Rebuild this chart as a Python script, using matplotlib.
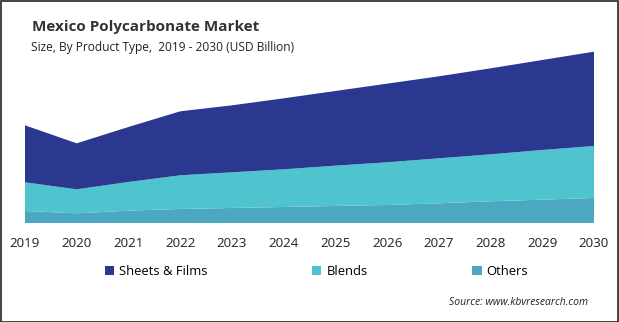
import matplotlib
matplotlib.use("Agg")
import matplotlib.pyplot as plt
from matplotlib.patches import Rectangle

# Mexico polycarbonate market size by product type (USD Billion)
years = [2019, 2020, 2021, 2022, 2023, 2024, 2025, 2026, 2027, 2028, 2029, 2030]
sheets_films = [0.171, 0.138, 0.165, 0.192, 0.201, 0.213, 0.224, 0.236, 0.246, 0.258, 0.270, 0.283]
blends = [0.086, 0.072, 0.086, 0.101, 0.107, 0.113, 0.121, 0.128, 0.135, 0.141, 0.149, 0.156]
others = [0.037, 0.030, 0.038, 0.043, 0.046, 0.049, 0.052, 0.055, 0.060, 0.066, 0.071, 0.076]
labels = ['Sheets & Films', 'Blends', 'Others']
colors = ['#2b388f', '#4fc4cf', '#4aa9c1']

plt.rcParams['font.family'] = ['Open Sans', 'DejaVu Sans']

W, H = 619, 322
fig = plt.figure(figsize=(W / 100, H / 100), dpi=100)
ax = fig.add_axes([25 / W, (H - 223.3) / H, 569 / W, 183.3 / H])

# stacked from the bottom: others, blends, sheets & films
polys = ax.stackplot(years, others, blends, sheets_films,
                     colors=[colors[2], colors[1], colors[0]], linewidth=0)

ax.set_xlim(2019, 2030)
ax.set_ylim(0, 0.55)
ax.set_xticks(years)
ax.set_xticklabels([str(y) for y in years], fontsize=9.6, color='#222222')
ax.tick_params(axis='x', length=0, pad=10)
ax.set_yticks([])
for s in ax.spines.values():
    s.set_visible(False)

fig.text(32 / W, 1 - 27 / H, 'Mexico Polycarbonate Market', fontsize=11,
         fontweight='bold', color='#333333', va='center')
fig.text(31 / W, 1 - 47 / H, 'Size, By Product Type,  2019 - 2030 (USD Billion)',
         fontsize=8.6, color='#222222', va='center')

handles = [polys[2], polys[1], polys[0]]
fig.legend(handles, labels, loc='center left', bbox_to_anchor=(105 / W, 1 - 271.7 / H),
           ncol=3, frameon=False, fontsize=9.4, handlelength=0.7, handleheight=0.7,
           handletextpad=0.4, columnspacing=8.0, borderpad=0, borderaxespad=0)

fig.text(588 / W, 1 - 302.7 / H, 'Source: www.kbvresearch.com', fontsize=7.5,
         style='italic', color='#222222', ha='right', va='center')

# frame around the whole image
fig.add_artist(Rectangle((0.5 / W, 0.5 / H), 1 - 1.5 / W, 1 - 1.5 / H,
                         transform=fig.transFigure, fill=False,
                         edgecolor='#222222', linewidth=1.2))

fig.savefig('out.png', dpi=100)
